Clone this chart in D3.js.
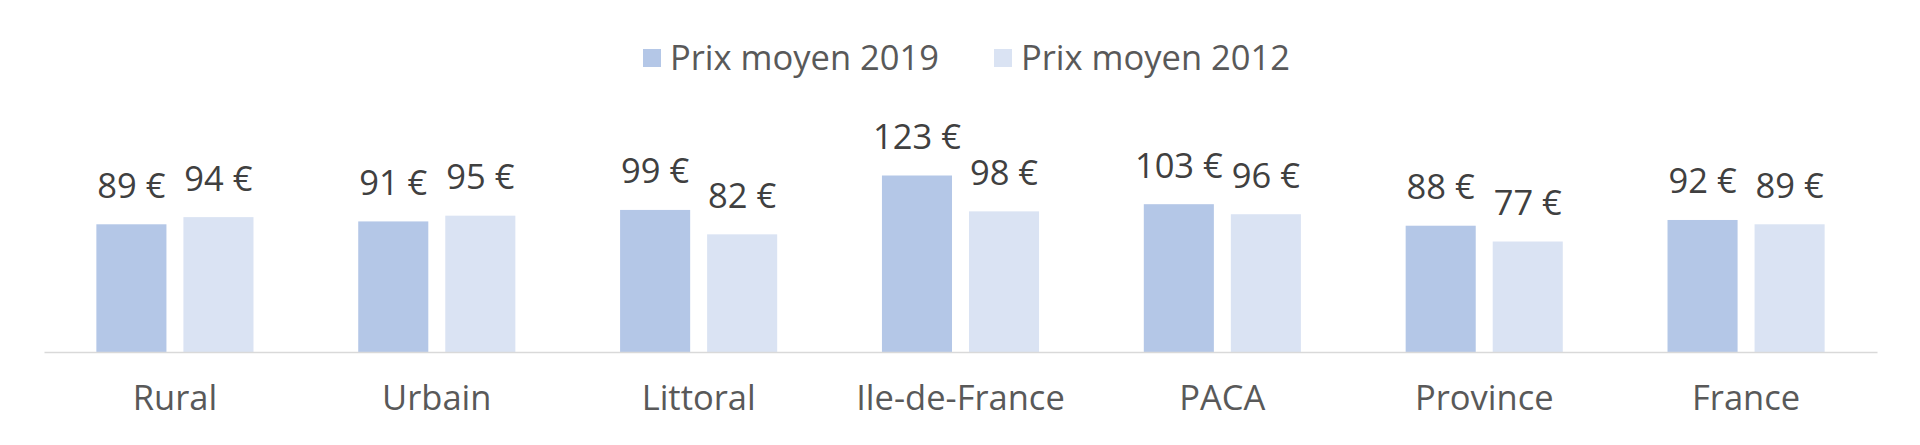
<!DOCTYPE html>
<html>
<head>
<meta charset="utf-8">
<script src="https://cdn.jsdelivr.net/npm/d3@7"></script>
<style>
  html, body { margin: 0; padding: 0; background: #ffffff; }
  svg text { font-family: "Open Sans", sans-serif; }
</style>
</head>
<body>
<svg id="canvas"></svg>
<script>
let categories = ["Rural", "Urbain", "Littoral", "Ile-de-France", "PACA", "Province", "France"];
let seriesNames = ["Prix moyen 2019", "Prix moyen 2012"];
let prix2019 = [89, 91, 99, 123, 103, 88, 92];
let prix2012 = [94, 95, 82, 98, 96, 77, 89];
let colors = ["#b4c7e7", "#dae3f3"];

let width = 1920;
let height = 445;
let left = 44;
let right = 1877;
let baseline = 352;
let fontSize = 34.5;

let canvas = d3.select("#canvas")
canvas.attr("width", width);
canvas.attr("height", height);

let rows = categories.map((c, i) => ({ name: c, values: [prix2019[i], prix2012[i]] }));

let xScale = d3.scaleBand()
               .domain(categories)
               .range([left, right])
               .paddingInner(0.4)
               .paddingOuter(0.2);

let xInner = d3.scaleBand()
               .domain([0, 1])
               .range([0, xScale.bandwidth()])
               .paddingInner(0.195);

let yScale = d3.scaleLinear()
               .domain([0, 140])
               .range([baseline, baseline - 140 * 1.435]);

// bars + labels
let groups = canvas.selectAll("g.cat")
                   .data(rows)
                   .enter()
                   .append("g")
                   .attr("class", "cat")
                   .attr("transform", (d) => "translate(" + xScale(d.name) + ",0)");

groups.selectAll("rect")
      .data((d) => d.values)
      .enter()
      .append("rect")
      .attr("x", (v, j) => xInner(j))
      .attr("width", xInner.bandwidth())
      .attr("y", (v) => yScale(v))
      .attr("height", (v) => baseline - yScale(v))
      .attr("fill", (v, j) => colors[j]);

groups.selectAll("text.val")
      .data((d) => d.values)
      .enter()
      .append("text")
      .attr("class", "val")
      .attr("x", (v, j) => xInner(j) + xInner.bandwidth() / 2)
      .attr("y", (v) => yScale(v) - 26.5)
      .attr("text-anchor", "middle")
      .attr("font-size", fontSize + "px")
      .attr("fill", "#404040")
      .text((v) => v + " €");

// axis
let xAxis = d3.axisBottom(xScale).tickSize(0);

let axisG = canvas.append("g")
                  .attr("transform", "translate(0," + baseline + ")")
                  .call(xAxis);

axisG.select(".domain")
     .attr("stroke", "#d9d9d9")
     .attr("stroke-width", 1.5);

axisG.selectAll(".tick text")
     .attr("y", 58)
     .attr("dy", null)
     .attr("font-size", fontSize + "px")
     .attr("font-family", "Open Sans, sans-serif")
     .attr("fill", "#595959");

// legend
let legendX = [643, 994];
let legend = canvas.selectAll("g.legend")
                   .data(seriesNames)
                   .enter()
                   .append("g")
                   .attr("class", "legend")
                   .attr("transform", (d, i) => "translate(" + legendX[i] + ",0)");

legend.append("rect")
      .attr("x", 0)
      .attr("y", 49)
      .attr("width", 18)
      .attr("height", 18)
      .attr("fill", (d, i) => colors[i]);

legend.append("text")
      .attr("x", 27)
      .attr("y", 70)
      .attr("font-size", fontSize + "px")
      .attr("fill", "#595959")
      .text((d) => d);
</script>
</body>
</html>
